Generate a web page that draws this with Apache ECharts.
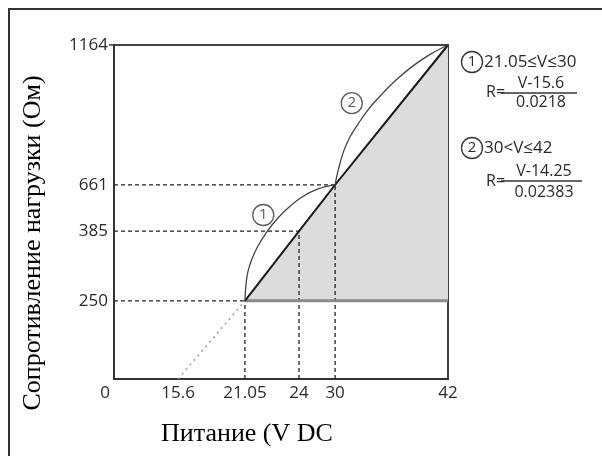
<!DOCTYPE html>
<html><head><meta charset="utf-8">
<script src="https://cdn.jsdelivr.net/npm/echarts@6/dist/echarts.min.js"></script>
<style>
html,body{margin:0;padding:0;background:#fff;overflow:hidden}
#frame{position:absolute;left:8px;top:8px;width:700px;height:600px;border-left:2px solid #333;border-top:2px solid #333}
#chart{position:absolute;left:0;top:0;width:602px;height:456px}
</style></head><body>
<div id="frame"></div>
<div id="chart"></div>
<script>
// ---- data ----
const xTickVals = [0, 15.6, 21.05, 24, 30, 42];
const xTickLabels = ['0', '15.6', '21.05', '24', '30', '42'];
const yTickVals = [0, 250, 385, 661, 1164];
const yTickLabels = ['0', '250', '385', '661', '1164'];
const diagV = [21.05, 24, 30, 42];
const diagR = [250, 385, 661, 1164];
const shadeV = [21.05, 42, 42];
const shadeR = [250, 1164, 250];
const baseV = [21.05, 42];
const baseR = [250, 250];
const extV = [15.6, 21.05];
const extR = [0, 250];
const arc1V = [21.05, 21.105, 21.21, 21.43, 21.76, 22.2, 22.75, 23.4, 24.5, 27.17, 30];
const arc1R = [250, 281, 306, 331, 356, 381, 451, 523, 589, 637, 661];
const arc2V = [30, 30.21, 30.53, 30.96, 31.59, 32.44, 33.5, 34.88, 36.48, 38.28, 40.19, 42];
const arc2R = [661, 697, 740, 787, 834, 880, 931, 984, 1038, 1089, 1132, 1164];
const guideR = [250, 385, 661];
const guideV = [21.05, 24, 30];
const markV = [22.05, 31.77];
const markR = [481, 955];
const markText = ['1', '2'];

// ---- schematic (non-linear) axis layout: where each tick sits along the axis ----
const xTickPos = [0, 0.192, 0.392, 0.554, 0.662, 1];
const yTickPos = [0, 0.234, 0.443, 0.581, 1];

function interp(v, src, dst) {
  for (let i = 0; i < src.length - 1; i++) {
    if (v <= src[i + 1] || i === src.length - 2) {
      const t = (v - src[i]) / (src[i + 1] - src[i]);
      return dst[i] + t * (dst[i + 1] - dst[i]);
    }
  }
  return dst[dst.length - 1];
}
const mx = v => interp(v, xTickVals, xTickPos);
const my = r => interp(r, yTickVals, yTickPos);
const pts = (V, R) => V.map((v, i) => [mx(v), my(R[i])]);
function labelAt(val, pos, labels) {
  for (let i = 0; i < pos.length; i++) if (Math.abs(pos[i] - val) < 1e-6) return labels[i];
  return '';
}

const tickFont = '"Open Sans", sans-serif';
const series = [];

series.push({
  type: 'custom', z: 1, silent: true,
  data: [0],
  renderItem: function (params, api) {
    const points = pts(shadeV, shadeR).map(p => api.coord(p));
    return { type: 'polygon', shape: { points: points }, style: { fill: '#dcdcde' } };
  }
});
series.push({ type: 'line', z: 3, symbol: 'none', data: pts(baseV, baseR),
  lineStyle: { color: '#8a8a8a', width: 3 } });
series.push({ type: 'line', z: 3, symbol: 'none', data: pts(extV, extR),
  lineStyle: { color: '#a0a0a0', width: 1.6, type: [2, 4] } });
for (let i = 0; i < guideR.length; i++) {
  series.push({ type: 'line', z: 2, symbol: 'none',
    data: pts([0, guideV[i]], [guideR[i], guideR[i]]),
    lineStyle: { color: '#222', width: 1.3, type: [4, 3] } });
  series.push({ type: 'line', z: 2, symbol: 'none',
    data: pts([guideV[i], guideV[i]], [0, guideR[i]]),
    lineStyle: { color: '#222', width: 1.3, type: [4, 3] } });
}
series.push({ type: 'line', z: 4, symbol: 'none', data: pts(diagV, diagR),
  lineStyle: { color: '#1a1a1a', width: 2 } });
series.push({ type: 'line', z: 4, symbol: 'none', smooth: 0.4, data: pts(arc1V, arc1R),
  lineStyle: { color: '#444', width: 1.3 } });
series.push({ type: 'line', z: 4, symbol: 'none', smooth: 0.4, data: pts(arc2V, arc2R),
  lineStyle: { color: '#444', width: 1.3 } });
series.push({ type: 'scatter', z: 5, symbol: 'circle', symbolSize: 21,
  data: pts(markV, markR),
  itemStyle: { color: '#fff', borderColor: '#333', borderWidth: 1.3 },
  label: { show: true, position: 'inside', color: '#333', fontSize: 15, fontFamily: tickFont,
    formatter: p => markText[p.dataIndex] } });

const annFont = '"Open Sans", sans-serif';
function txt(x, y, s, size, align) {
  return { type: 'text', x: x, y: y, z: 10,
    style: { text: s, fill: '#2a2a2a', font: size + 'px ' + annFont, textAlign: align || 'left', textVerticalAlign: 'middle' } };
}
function circ(x, y, d) {
  return [{ type: 'circle', x: x, y: y, z: 10, shape: { r: 10.5 }, style: { fill: 'none', stroke: '#333', lineWidth: 1.3 } },
          txt(x, y, d, 15, 'center')];
}
function hline(x1, x2, y) {
  return { type: 'line', z: 10, shape: { x1: x1, y1: y, x2: x2, y2: y }, style: { stroke: '#333', lineWidth: 1.5 } };
}

const graphic = [].concat(
  circ(472, 62, '1'),
  [txt(484, 62, '21.05≤V≤30', 17),
   txt(486, 92, 'R=', 16),
   hline(501, 577, 93),
   txt(541, 83, 'V-15.6', 16, 'center'),
   txt(541, 102, '0.0218', 16, 'center')],
  circ(472, 148, '2'),
  [txt(484, 148, '30<V≤42', 17),
   txt(486, 181, 'R=', 16),
   hline(501, 582, 181),
   txt(544, 171, 'V-14.25', 16, 'center'),
   txt(544, 192, '0.02383', 16, 'center')],
  [{ type: 'text', x: 33, y: 243, rotation: Math.PI / 2, z: 10,
     style: { text: 'Сопротивление нагрузки (Ом)', fill: '#000', font: '26px "Liberation Serif", serif', textAlign: 'center', textVerticalAlign: 'middle' } },
   { type: 'text', x: 247, y: 434, z: 10,
     style: { text: 'Питание (V DC', fill: '#000', font: '26px "Liberation Serif", serif', textAlign: 'center', textVerticalAlign: 'middle' } }]
);

const chart = echarts.init(document.getElementById('chart'), null, { renderer: 'canvas' });
chart.setOption({
  animation: false,
  backgroundColor: 'transparent',
  grid: { left: 114, right: 154, top: 45, bottom: 77, show: true, borderColor: '#444', borderWidth: 2, backgroundColor: 'transparent' },
  xAxis: {
    type: 'value', min: 0, max: 1,
    splitLine: { show: false },
    axisLine: { show: true, lineStyle: { color: '#333', width: 2 } },
    axisTick: { show: false },
    axisLabel: {
      customValues: xTickPos, showMinLabel: true, showMaxLabel: true,
      margin: 6, color: '#2a2a2a', fontSize: 17, fontFamily: tickFont,
      formatter: v => { const s = labelAt(v, xTickPos, xTickLabels); return s === '0' ? '{z|0}' : s; },
      rich: { z: { padding: [0, 18, 0, 0], fontSize: 17, fontFamily: tickFont, color: '#2a2a2a' } }
    }
  },
  yAxis: {
    type: 'value', min: 0, max: 1,
    splitLine: { show: false },
    axisLine: { show: true, lineStyle: { color: '#333', width: 2 } },
    axisTick: { show: true, customValues: [1], length: 5, lineStyle: { color: '#333', width: 1.5 } },
    axisLabel: {
      customValues: yTickPos.slice(1), showMinLabel: true, showMaxLabel: true,
      margin: 6, color: '#2a2a2a', fontSize: 17, fontFamily: tickFont,
      formatter: v => labelAt(v, yTickPos, yTickLabels)
    }
  },
  graphic: graphic,
  series: series
});
</script>
</body></html>
